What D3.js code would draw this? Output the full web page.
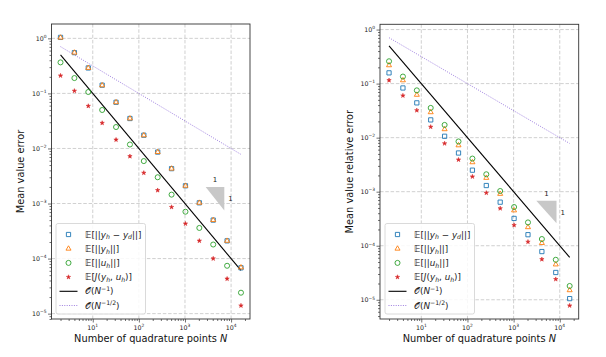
<!DOCTYPE html>
<html>
<head>
<meta charset="utf-8">
<script src="https://cdn.jsdelivr.net/npm/d3@7/dist/d3.min.js"></script>
<style>
  body { margin: 0; background: #fff; }
  text { font-family: "DejaVu Sans", sans-serif; }
</style>
</head>
<body>
<svg width="606" height="357"></svg>
<script>
// quadrature points
var N = [2, 4, 8, 16, 32, 64, 128, 256, 512, 1024, 2048, 4096, 8192, 16384];

// left panel: mean value error
var errYd = [1.04, 0.55, 0.29, 0.141, 0.069, 0.035, 0.0174, 0.0086, 0.0043, 0.0021, 0.00103, 5.0e-4, 2.1e-4, 6.8e-5];
var errYh = [1.03, 0.55, 0.29, 0.140, 0.069, 0.035, 0.0173, 0.0086, 0.0043, 0.0021, 0.00103, 5.0e-4, 2.1e-4, 6.9e-5];
var errUh = [0.366, 0.19, 0.106, 0.050, 0.0245, 0.0118, 0.0059, 0.0030, 0.00145, 7.1e-4, 3.6e-4, 1.8e-4, 7.4e-5, 2.4e-5];
var errJ  = [0.21, 0.111, 0.059, 0.029, 0.0144, 0.0072, 0.0036, 0.00174, 8.6e-4, 4.3e-4, 2.1e-4, 1.0e-4, 4.3e-5, 1.4e-5];

// right panel: mean value relative error
var relYd = [0.158, 0.083, 0.044, 0.0213, 0.0106, 0.0052, 0.0025, 0.0013, 6.4e-4, 3.2e-4, 1.6e-4, 7.8e-5, 3.2e-5, 1.05e-5];
var relYh = [0.218, 0.115, 0.062, 0.0295, 0.0143, 0.0072, 0.0035, 0.0018, 9.1e-4, 4.5e-4, 2.2e-4, 1.12e-4, 4.5e-5, 1.5e-5];
var relUh = [0.259, 0.135, 0.075, 0.0355, 0.0172, 0.0085, 0.0041, 0.0021, 0.00103, 5.2e-4, 2.7e-4, 1.33e-4, 5.5e-5, 1.8e-5];
var relJ  = [0.115, 0.060, 0.032, 0.0158, 0.0078, 0.0039, 0.0019, 9.5e-4, 4.9e-4, 2.4e-4, 1.18e-4, 5.6e-5, 2.4e-5, 7.8e-6];

// reference rate lines, values at first and last N
var rateN1  = [0.5, 6.1e-5];
var rateN12 = [0.707, 0.0078];

// slope triangles [x0, x1], [yTop, yBottom]
var triLeftX  = [2810, 7130], triLeftY  = [1.99e-3, 7.46e-4];
var triRightX = [3100, 8500], triRightY = [6.8e-4, 2.6e-4];

var xTicks = [10, 100, 1000, 10000];
var xTickExp = ["1", "2", "3", "4"];
var yTicks = [1, 0.1, 0.01, 0.001, 1e-4, 1e-5];
var yTickExp = ["0", "\u22121", "\u22122", "\u22123", "\u22124", "\u22125"];

var svg = d3.select("svg");

var colors = { blue: "#1f77b4", orange: "#ff7f0e", green: "#2ca02c", red: "#d62728", purple: "#9370db" };

// legend labels as [text, kind] pieces; kind: n normal, i italic, s subscript, p superscript
var legendLabels = [
  [["\ud835\udd3c[||", "n"], ["y", "i"], ["h", "s"], [" \u2212 ", "n"], ["y", "i"], ["d", "s"], ["||]", "n"]],
  [["\ud835\udd3c[||", "n"], ["y", "i"], ["h", "s"], ["||]", "n"]],
  [["\ud835\udd3c[||", "n"], ["u", "i"], ["h", "s"], ["||]", "n"]],
  [["\ud835\udd3c[", "n"], ["J", "i"], ["(", "n"], ["y", "i"], ["h", "s"], [", ", "n"], ["u", "i"], ["h", "s"], [")]", "n"]],
  [["\ud835\udcaa", "n"], ["(", "n"], ["N", "i"], ["\u22121", "p"], [")", "n"]],
  [["\ud835\udcaa", "n"], ["(", "n"], ["N", "i"], ["\u22121/2", "p"], [")", "n"]]
];

function richText(t, pieces, size) {
  var shift = 0;
  pieces.forEach(function (p) {
    var ts = t.append("tspan").text(p[0]);
    var target = 0;
    if (p[1] == "s") { target = size * 0.22; ts.attr("font-size", size * 0.7).attr("font-style", "italic"); }
    else if (p[1] == "p") { target = -size * 0.4; ts.attr("font-size", size * 0.7); }
    else if (p[1] == "i") { ts.attr("font-style", "italic"); }
    if (target != shift) { ts.attr("dy", target - shift); shift = target; }
  });
}

function panel(opt) {
  var g = svg.append("g");
  var allY = opt.series.reduce(function (a, s) { return a.concat(s.values); }, []).concat(rateN1, rateN12);
  var lx = [Math.log10(d3.min(N)), Math.log10(d3.max(N))];
  var ly = [Math.log10(d3.min(allY)), Math.log10(d3.max(allY))];
  var mx = (lx[1] - lx[0]) * 0.05, my = (ly[1] - ly[0]) * 0.05;

  var x = d3.scaleLog().domain([Math.pow(10, lx[0] - mx), Math.pow(10, lx[1] + mx)]).range([opt.left, opt.right]);
  var y = d3.scaleLog().domain([Math.pow(10, ly[0] - my), Math.pow(10, ly[1] + my)]).range([opt.bottom, opt.top]);

  // grid
  g.append("g").selectAll("line").data(xTicks).join("line")
    .attr("x1", function (d) { return x(d); }).attr("x2", function (d) { return x(d); })
    .attr("y1", opt.top).attr("y2", opt.bottom)
    .style("stroke", "#c4c4c4").style("stroke-width", 0.8).style("stroke-dasharray", "3.5,1.8");
  g.append("g").selectAll("line").data(yTicks).join("line")
    .attr("y1", function (d) { return y(d); }).attr("y2", function (d) { return y(d); })
    .attr("x1", opt.left).attr("x2", opt.right)
    .style("stroke", "#c4c4c4").style("stroke-width", 0.8).style("stroke-dasharray", "3.5,1.8");

  // axes
  var xAxis = d3.axisBottom(x).tickValues(xTicks).tickSize(3.5).tickFormat("");
  var yAxis = d3.axisLeft(y).tickValues(yTicks).tickSize(3.5).tickFormat("");
  var minorX = x.ticks().filter(function (d) { return xTicks.indexOf(d) < 0; });
  var minorY = y.ticks().filter(function (d) { return yTicks.indexOf(d) < 0; });
  g.append("g").attr("transform", "translate(0," + opt.bottom + ")").call(xAxis);
  g.append("g").attr("transform", "translate(" + opt.left + ",0)").call(yAxis);
  g.append("g").attr("transform", "translate(0," + opt.bottom + ")")
    .call(d3.axisBottom(x).tickValues(minorX).tickSize(2).tickFormat(""));
  g.append("g").attr("transform", "translate(" + opt.left + ",0)")
    .call(d3.axisLeft(y).tickValues(minorY).tickSize(2).tickFormat(""));
  g.selectAll(".domain").remove();
  g.selectAll(".tick line").style("stroke", "#333").style("stroke-width", 0.7);

  xTicks.forEach(function (d, i) {
    var t = g.append("text").attr("x", x(d)).attr("y", opt.bottom + 11)
      .attr("text-anchor", "middle").attr("font-size", 6.3).attr("fill", "#222");
    richText(t, [["10", "n"], [xTickExp[i], "p"]], 6.3);
  });
  yTicks.forEach(function (d, i) {
    var t = g.append("text").attr("x", opt.left - 5).attr("y", y(d) + 2.3)
      .attr("text-anchor", "end").attr("font-size", 6.3).attr("fill", "#222");
    richText(t, [["10", "n"], [yTickExp[i], "p"]], 6.3);
  });

  // rate lines
  var line = d3.line().x(function (d) { return x(d[0]); }).y(function (d) { return y(d[1]); });
  var ends = [N[0], N[N.length - 1]];
  g.append("path").attr("d", line([[ends[0], rateN1[0]], [ends[1], rateN1[1]]]))
    .style("stroke", "#000").style("stroke-width", 1.1).style("fill", "none");
  g.append("path").attr("d", line([[ends[0], rateN12[0]], [ends[1], rateN12[1]]]))
    .style("stroke", colors.purple).style("stroke-width", 0.9).style("fill", "none").style("stroke-dasharray", "1,1.4");

  // markers
  opt.series.forEach(function (s) {
    g.append("g").selectAll("path").data(N).join("path")
      .attr("transform", function (d, i) { return "translate(" + x(d) + "," + y(s.values[i]) + ")"; })
      .attr("d", d3.symbol().type(s.shape).size(s.size))
      .style("fill", s.filled ? s.color : "none")
      .style("stroke", s.color).style("stroke-width", s.filled ? 0.5 : 0.9);
  });

  // slope triangle
  var tx0 = x(opt.triX[0]), tx1 = x(opt.triX[1]), ty0 = y(opt.triY[0]), ty1 = y(opt.triY[1]);
  g.append("path").attr("d", "M" + tx0 + "," + ty0 + "L" + tx1 + "," + ty0 + "L" + tx1 + "," + ty1 + "Z")
    .style("fill", "#c8c8c8");
  g.append("text").attr("x", (tx0 + tx1) / 2).attr("y", ty0 - 5).attr("text-anchor", "middle")
    .attr("font-size", 7).attr("fill", "#222").text("1");
  g.append("text").attr("x", tx1 + 4).attr("y", (ty0 + ty1) / 2 + 2.5)
    .attr("font-size", 7).attr("fill", "#222").text("1");

  // frame
  g.append("rect").attr("x", opt.left).attr("y", opt.top)
    .attr("width", opt.right - opt.left).attr("height", opt.bottom - opt.top)
    .style("fill", "none").style("stroke", "#333").style("stroke-width", 0.9);

  // legend
  var lg = g.append("g").attr("transform", "translate(" + opt.legX + ",223.5)");
  lg.append("rect").attr("width", 89.5).attr("height", 90.5).attr("rx", 2)
    .style("fill", "#fff").style("fill-opacity", 0.85).style("stroke", "#d0d0d0").style("stroke-width", 0.8);
  legendLabels.forEach(function (lab, i) {
    var cy = 11 + i * 14.2;
    if (i < 4) {
      var s = opt.series[i];
      lg.append("path").attr("transform", "translate(12.5," + cy + ")")
        .attr("d", d3.symbol().type(s.shape).size(s.size))
        .style("fill", s.filled ? s.color : "none").style("stroke", s.color)
        .style("stroke-width", s.filled ? 0.5 : 0.9);
    } else if (i == 4) {
      lg.append("line").attr("x1", 3.5).attr("x2", 21.5).attr("y1", cy).attr("y2", cy)
        .style("stroke", "#000").style("stroke-width", 1.1);
    } else {
      lg.append("line").attr("x1", 3.5).attr("x2", 21.5).attr("y1", cy).attr("y2", cy)
        .style("stroke", colors.purple).style("stroke-width", 0.9).style("stroke-dasharray", "1,1.4");
    }
    var t = lg.append("text").attr("x", 29).attr("y", cy + 3).attr("font-size", 8.8).attr("fill", "#222");
    richText(t, lab, 8.8);
  });

  // axis labels
  var xl = g.append("text").attr("x", (opt.left + opt.right) / 2).attr("y", 342)
    .attr("text-anchor", "middle").attr("font-size", 9.8).attr("fill", "#111");
  richText(xl, [["Number of quadrature points ", "n"], ["N", "i"]], 9.8);
  g.append("text").attr("transform", "translate(" + opt.ylabX + "," + ((opt.top + opt.bottom) / 2) + ") rotate(-90)")
    .attr("text-anchor", "middle").attr("font-size", 9.8).attr("fill", "#111").text(opt.ylabel);
}

panel({
  left: 51.5, right: 250, top: 24, bottom: 319, legX: 56, ylabX: 24,
  ylabel: "Mean value error", triX: triLeftX, triY: triLeftY,
  series: [
    { values: errYd, color: colors.blue, shape: d3.symbolSquare, size: 18, filled: false },
    { values: errYh, color: colors.orange, shape: d3.symbolTriangle, size: 11, filled: false },
    { values: errUh, color: colors.green, shape: d3.symbolCircle, size: 20, filled: false },
    { values: errJ, color: colors.red, shape: d3.symbolStar, size: 6, filled: true }
  ]
});

panel({
  left: 380, right: 578.7, top: 24.3, bottom: 319, legX: 385, ylabX: 353,
  ylabel: "Mean value relative error", triX: triRightX, triY: triRightY,
  series: [
    { values: relYd, color: colors.blue, shape: d3.symbolSquare, size: 18, filled: false },
    { values: relYh, color: colors.orange, shape: d3.symbolTriangle, size: 11, filled: false },
    { values: relUh, color: colors.green, shape: d3.symbolCircle, size: 20, filled: false },
    { values: relJ, color: colors.red, shape: d3.symbolStar, size: 6, filled: true }
  ]
});
</script>
</body>
</html>
